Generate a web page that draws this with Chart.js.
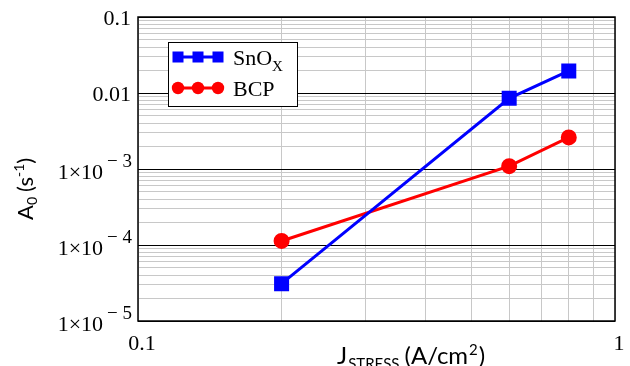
<!DOCTYPE html>
<html>
<head>
<meta charset="utf-8">
<script src="https://cdn.jsdelivr.net/npm/chart.js@4.4.1/dist/chart.umd.min.js"></script>
<style>
    body { margin: 0; background: #fff; }
    #box { width: 630px; height: 366px; }
</style>
</head>
<body>
<div id="box"><canvas id="a0Chart" width="630" height="366"></canvas></div>
<script>
// values
const jStress = [0.2, 0.6, 0.8];
const snoxA0 = [3.1e-5, 0.0085, 0.0195];
const bcpA0 = [1.13e-4, 1.09e-3, 2.6e-3];

const yDecades = [1e-5, 1e-4, 1e-3, 0.01, 0.1];
const yMajorLabels = [["1\u00d710", "\u2212 5"], ["1\u00d710", "\u2212 4"], ["1\u00d710", "\u2212 3"], ["0.01", ""], ["0.1", ""]];
const xTicks = [0.1, 0.2, 0.3, 0.4, 0.5, 0.6, 0.7, 0.8, 0.9, 1];
const xLabels = ["0.1", "", "", "", "", "", "", "", "", "1"];
const multiples = [1, 2, 3, 4, 5, 6, 7, 8, 9];

const serif = '"Liberation Serif", "Times New Roman", serif';
const sans = 'Lato, "Open Sans", sans-serif';

function yTickValues() {
    const out = [];
    yDecades.forEach((d, i) => {
        if (i === yDecades.length - 1) {
            out.push(d);
            return;
        }
        multiples.forEach(m => out.push(+(d * m).toPrecision(3)));
    });
    return out;
}

function isDecade(v) {
    return yDecades.some(d => Math.abs(v - d) / d < 1e-6);
}

const frame = {
    id: 'frame',
    afterDraw(chart) {
        const ctx = chart.ctx;
        const area = chart.chartArea;
        const xs = chart.scales.x;
        const ys = chart.scales.y;

        ctx.save();
        ctx.strokeStyle = '#000';
        ctx.lineWidth = 1.5;
        ctx.strokeRect(area.left, area.top, area.right - area.left, area.bottom - area.top);

        // y tick labels
        ctx.fillStyle = '#000';
        ctx.textBaseline = 'alphabetic';
        yDecades.forEach((d, i) => {
            const y = ys.getPixelForValue(d);
            const [main, sup] = yMajorLabels[i];
            if (!sup) {
                ctx.font = '22px ' + serif;
                ctx.textAlign = 'right';
                ctx.fillText(main, 131, y + 8);
            } else {
                ctx.font = '19px ' + serif;
                ctx.textAlign = 'right';
                ctx.fillText(sup, 132, y - 2);
                const supW = ctx.measureText(sup).width;
                ctx.font = '22px ' + serif;
                ctx.fillText(main, 131 - supW - 3, y + 10);
            }
        });

        // x tick labels
        ctx.font = '22px ' + serif;
        ctx.textAlign = 'center';
        xTicks.forEach((v, i) => {
            if (!xLabels[i]) return;
            ctx.fillText(xLabels[i], xs.getPixelForValue(v) + 4, 350);
        });

        // x title
        ctx.textAlign = 'left';
        let x = 337;
        ctx.font = '24px ' + sans;
        ctx.fillText('J', x, 364);
        x += ctx.measureText('J').width + 1;
        ctx.font = '15px ' + sans;
        ctx.fillText('STRESS', x, 369);
        x += ctx.measureText('STRESS').width + 5;
        ctx.font = '24px ' + sans;
        ctx.fillText('(A/cm', x, 364);
        x += ctx.measureText('(A/cm').width;
        ctx.font = '15px ' + sans;
        ctx.fillText('2', x + 1, 355);
        x += ctx.measureText('2').width + 2;
        ctx.font = '24px ' + sans;
        ctx.fillText(')', x, 364);

        // y title
        ctx.translate(33, 220);
        ctx.rotate(-Math.PI / 2);
        let t = 0;
        ctx.font = '22px ' + sans;
        ctx.fillText('A', t, 0);
        t += ctx.measureText('A').width;
        ctx.font = '14px ' + sans;
        ctx.fillText('0', t, 4);
        t += ctx.measureText('0').width + 5;
        ctx.font = '22px ' + sans;
        ctx.fillText('(s', t, 0);
        t += ctx.measureText('(s').width;
        ctx.font = '14px ' + sans;
        ctx.fillText('-1', t, -9);
        t += ctx.measureText('-1').width;
        ctx.font = '22px ' + sans;
        ctx.fillText(')', t, 0);
        ctx.restore();

        // legend
        ctx.save();
        ctx.fillStyle = '#fff';
        ctx.fillRect(168, 42, 129, 64);
        ctx.strokeStyle = '#000';
        ctx.lineWidth = 1;
        ctx.strokeRect(168.5, 42.5, 129, 64);
        const rows = [
            {color: '#0000ff', y: 57, shape: 'rect'},
            {color: '#ff0000', y: 88, shape: 'circle'}
        ];
        rows.forEach(r => {
            ctx.strokeStyle = r.color;
            ctx.fillStyle = r.color;
            ctx.lineWidth = 3;
            ctx.beginPath();
            ctx.moveTo(178, r.y);
            ctx.lineTo(218, r.y);
            ctx.stroke();
            [178, 198, 218].forEach(cx => {
                if (r.shape === 'rect') {
                    ctx.fillRect(cx - 5.5, r.y - 5.5, 11, 11);
                } else {
                    ctx.beginPath();
                    ctx.arc(cx, r.y, 6.2, 0, Math.PI * 2);
                    ctx.fill();
                }
            });
        });
        ctx.fillStyle = '#000';
        ctx.textAlign = 'left';
        ctx.font = '22px ' + serif;
        ctx.fillText('SnO', 233, 65);
        const w = ctx.measureText('SnO').width;
        ctx.font = '15px ' + serif;
        ctx.fillText('X', 233 + w, 71);
        ctx.font = '22px ' + serif;
        ctx.fillText('BCP', 233, 96);
        ctx.restore();
    }
};

new Chart(document.getElementById('a0Chart'), {
    type: 'line',
    data: {
        datasets: [{
            label: 'SnOX',
            data: jStress.map((x, i) => ({x: x, y: snoxA0[i]})),
            borderColor: '#0000ff',
            backgroundColor: '#0000ff',
            borderWidth: 3,
            pointStyle: 'rect',
            pointRadius: 8.5,
            pointHoverRadius: 8.5,
            tension: 0
        }, {
            label: 'BCP',
            data: jStress.map((x, i) => ({x: x, y: bcpA0[i]})),
            borderColor: '#ff0000',
            backgroundColor: '#ff0000',
            borderWidth: 3,
            pointStyle: 'circle',
            pointRadius: 6.5,
            pointHoverRadius: 6.5,
            tension: 0
        }]
    },
    plugins: [frame],
    options: {
        responsive: false,
        animation: false,
        layout: {
            padding: {left: 0, top: 17, right: 15, bottom: 0}
        },
        plugins: {
            legend: {display: false},
            tooltip: {enabled: false}
        },
        scales: {
            x: {
                type: 'logarithmic',
                min: 0.1,
                max: 1,
                afterBuildTicks: scale => {
                    scale.ticks = xTicks.map(v => ({value: v}));
                },
                afterFit: scale => {
                    scale.height = 45;
                },
                ticks: {display: false, autoSkip: false},
                grid: {color: '#c8c8c8', lineWidth: 1, drawTicks: false},
                border: {display: false}
            },
            y: {
                type: 'logarithmic',
                min: 1e-5,
                max: 0.1,
                afterBuildTicks: scale => {
                    scale.ticks = yTickValues().map(v => ({value: v}));
                },
                afterFit: scale => {
                    scale.width = 138;
                },
                ticks: {display: false, autoSkip: false},
                grid: {
                    color: c => isDecade(c.tick.value) ? '#000' : '#c8c8c8',
                    lineWidth: 1,
                    drawTicks: false
                },
                border: {display: false}
            }
        }
    }
});
</script>
</body>
</html>
